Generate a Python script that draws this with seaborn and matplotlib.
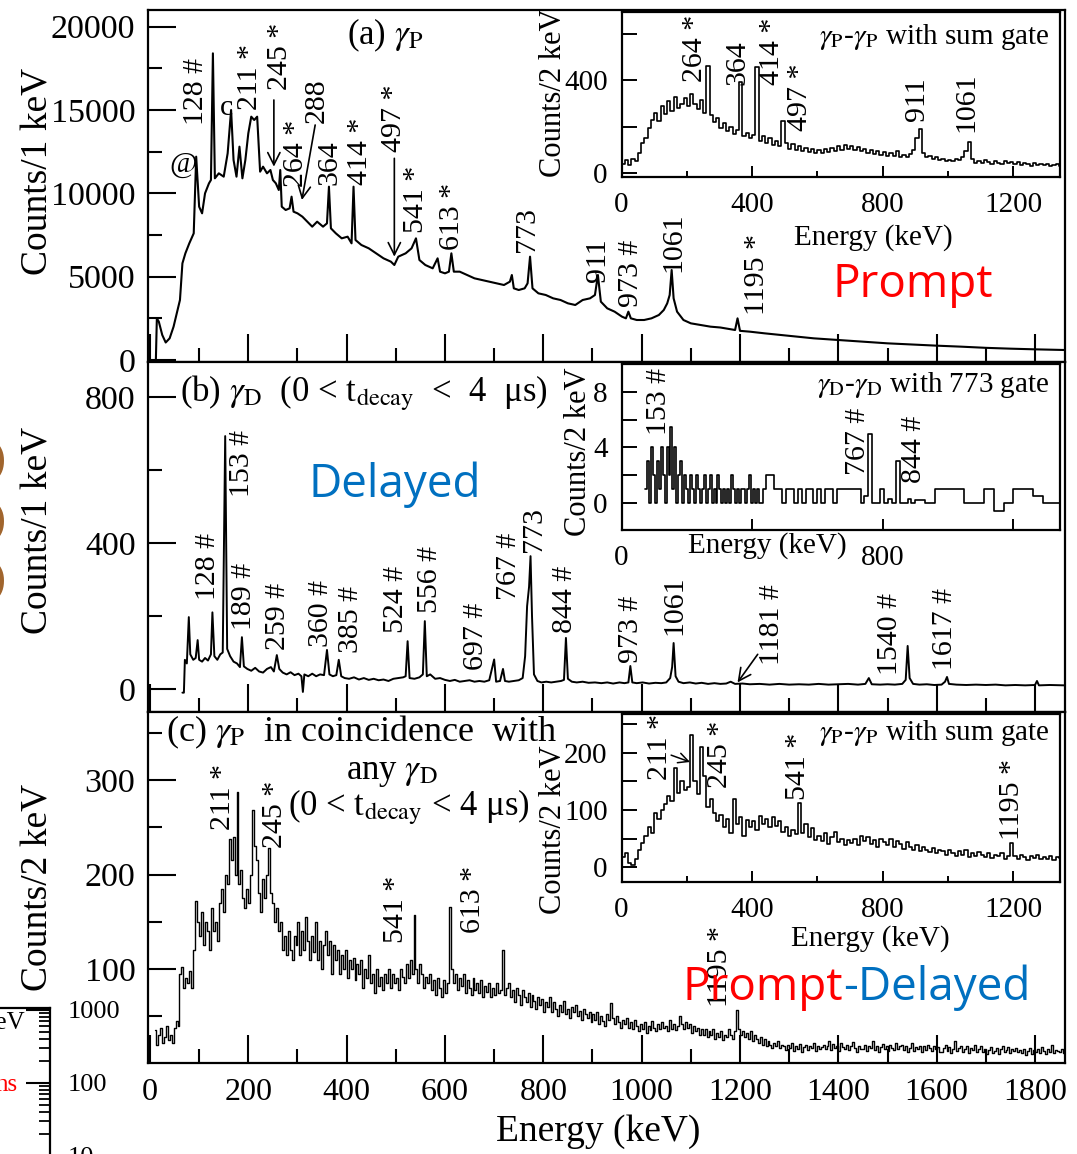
import numpy as np
import matplotlib
matplotlib.use("Agg")
import matplotlib.pyplot as plt
from matplotlib.ticker import MultipleLocator, FixedLocator, FuncFormatter, NullFormatter
import seaborn as sns

# ---------------- panel (a): prompt gamma singles, counts per 1 keV ----------------
pa_energy = [12, 14, 18, 25, 32, 40, 48, 56, 61, 66,
             72, 80, 89, 94, 100, 106, 112, 120, 124, 128,
             132, 140, 150, 158, 165, 170, 176, 182, 188, 194,
             200, 206, 212, 218, 224, 230, 238, 245, 250, 256,
             262, 265, 268, 276, 284, 288, 292, 300, 310, 320,
             330, 340, 352, 360, 364, 368, 378, 390, 402, 410,
             414, 418, 430, 445, 460, 475, 490, 497, 505, 520,
             532, 541, 548, 560, 575, 585, 590, 600, 608, 613,
             618, 630, 645, 660, 675, 690, 705, 720, 732, 736,
             740, 750, 762, 768, 773, 778, 790, 805, 820, 835,
             850, 865, 880, 895, 905, 911, 917, 930, 945, 960,
             968, 973, 978, 990, 1005, 1020, 1035, 1045, 1052, 1057,
             1061, 1065, 1072, 1085, 1100, 1120, 1140, 1160, 1180, 1190,
             1195, 1200, 1220, 1250, 1300, 1350, 1400, 1450, 1500, 1550,
             1600, 1650, 1700, 1750, 1800, 1860]
pa_counts = [0, 2500, 2300, 1500, 1050, 1300, 2000, 3000, 3600, 5800,
             6400, 7000, 7600, 12200, 9200, 8800, 10000, 10600, 10800, 18400,
             10900, 11200, 11000, 12400, 15000, 12000, 11000, 12800, 10900, 12000,
             13600, 14600, 14400, 14600, 11300, 11600, 11200, 11400, 10800, 10600,
             10200, 11400, 9200, 9000, 9100, 9800, 8900, 8800, 8600, 8300,
             8000, 8300, 8000, 8200, 10400, 7900, 7600, 7300, 7400, 7000,
             10400, 7200, 6900, 6700, 6400, 6100, 5900, 5700, 6200, 6400,
             6700, 7300, 6000, 5700, 5500, 6100, 5300, 5200, 5300, 6400,
             5300, 5300, 5100, 4900, 4800, 4700, 4600, 4500, 4700, 5100,
             4300, 4200, 4300, 4600, 6200, 4300, 4000, 3900, 3700, 3600,
             3400, 3300, 3600, 3700, 3900, 5100, 3500, 3100, 2900, 2600,
             2500, 2900, 2500, 2400, 2400, 2500, 2700, 3000, 3400, 3900,
             5400, 3700, 2900, 2400, 2200, 2100, 2000, 1950, 1850, 1800,
             2500, 1750, 1700, 1600, 1450, 1300, 1200, 1100, 1000, 930,
             860, 800, 730, 680, 640, 600]

# ---------------- panel (b): delayed gamma singles, counts per 1 keV ----------------
pb_energy = [66, 69, 71, 75, 79, 82, 88, 93, 97, 100,
             106, 112, 118, 124, 127, 131, 137, 143, 148, 153,
             157, 163, 170, 177, 183, 187, 191, 198, 206, 214,
             222, 230, 238, 246, 252, 258, 263, 270, 278, 286,
             294, 302, 308, 311, 314, 322, 330, 338, 346, 354,
             360, 365, 372, 379, 384, 389, 396, 405, 415, 425,
             435, 445, 455, 465, 475, 485, 495, 505, 515, 520,
             524, 528, 538, 548, 555, 559, 563, 570, 580, 590,
             600, 610, 620, 630, 640, 650, 660, 670, 680, 690,
             700, 704, 712, 718, 722, 730, 740, 750, 758, 763,
             767, 771, 774, 777, 781, 788, 796, 806, 816, 826,
             836, 842, 846, 850, 858, 868, 880, 892, 905, 918,
             930, 942, 955, 965, 973, 977, 981, 990, 1002, 1015,
             1028, 1040, 1050, 1058, 1062, 1065, 1069, 1075, 1085, 1098,
             1110, 1122, 1135, 1148, 1160, 1172, 1181, 1190, 1205, 1220,
             1240, 1260, 1280, 1300, 1320, 1340, 1360, 1380, 1400, 1420,
             1440, 1455, 1462, 1468, 1485, 1500, 1515, 1530, 1537, 1541,
             1545, 1552, 1565, 1580, 1595, 1610, 1617, 1621, 1625, 1640,
             1660, 1680, 1700, 1720, 1740, 1760, 1780, 1800, 1804, 1808,
             1830, 1860]
pb_counts = [-10, -10, 80, 70, 197, 95, 80, 85, 134, 80,
             75, 85, 78, 95, 210, 90, 80, 95, 100, 693,
             110, 90, 75, 70, 60, 142, 62, 55, 50, 58,
             48, 45, 55, 60, 48, 93, 55, 45, 40, 46,
             38, 42, 35, -8, 40, 35, 42, 35, 40, 38,
             107, 40, 35, 38, 80, 35, 30, 28, 32, 26,
             30, 25, 28, 24, 26, 22, 28, 30, 32, 35,
             131, 30, 28, 32, 40, 186, 35, 40, 28, 30,
             25, 22, 25, 20, 22, 24, 20, 22, 20, 24,
             81, 20, 22, 55, 22, 20, 22, 24, 30, 90,
             227, 280, 364, 200, 40, 22, 18, 20, 18, 20,
             22, 25, 140, 28, 20, 18, 20, 17, 18, 16,
             18, 15, 18, 16, 18, 63, 18, 16, 18, 15,
             17, 16, 18, 30, 60, 126, 35, 20, 16, 18,
             15, 17, 14, 16, 14, 15, 20, 14, 15, 13,
             14, 12, 14, 12, 13, 12, 14, 12, 13, 14,
             12, 14, 30, 13, 12, 13, 12, 14, 25, 118,
             30, 14, 12, 13, 11, 12, 20, 33, 14, 12,
             11, 12, 11, 12, 10, 11, 10, 11, 22, 10,
             11, 10]

# ---------------- panel (c): prompt gammas in coincidence, 4 keV bins from 10 keV ----------------
pc_start, pc_width = 10, 4
pc_counts = [35, 20, 30, 38, 22, 28, 40, 25, 30, 22, 38, 45, 40, 95, 102, 80, 90, 85, 98, 80,
             120, 172, 150, 135, 160, 125, 150, 140, 120, 165, 140, 150, 130, 170, 185, 160, 200, 190, 238, 215,
             240, 200, 287, 190, 205, 175, 165, 185, 170, 200, 268, 230, 215, 180, 160, 195, 175, 200, 228, 180,
             170, 150, 165, 140, 150, 120, 135, 115, 140, 120, 110, 135, 125, 150, 115, 140, 120, 155, 130, 110,
             135, 118, 150, 110, 130, 100, 125, 140, 115, 130, 95, 125, 110, 120, 95, 115, 100, 120, 90, 110,
             100, 112, 88, 105, 95, 110, 80, 100, 90, 115, 85, 95, 75, 100, 82, 92, 78, 95, 85, 100,
             80, 95, 85, 90, 78, 100, 92, 85, 105, 90, 110, 95, 157, 100, 85, 105, 95, 80, 92, 85,
             95, 78, 88, 72, 90, 80, 70, 88, 75, 85, 166, 100, 85, 95, 78, 90, 82, 95, 75, 88,
             80, 72, 90, 78, 85, 75, 88, 70, 82, 76, 85, 70, 80, 72, 85, 75, 78, 120, 72, 80,
             85, 70, 78, 65, 80, 72, 62, 78, 70, 65, 75, 60, 72, 66, 58, 70, 62, 68, 55, 65,
             60, 70, 55, 65, 58, 50, 62, 55, 66, 52, 58, 48, 60, 54, 62, 50, 56, 46, 58, 52,
             48, 55, 44, 52, 46, 55, 42, 50, 45, 40, 52, 46, 64, 48, 42, 50, 44, 38, 46, 42,
             48, 38, 44, 36, 46, 40, 34, 42, 36, 44, 32, 40, 35, 45, 38, 34, 42, 36, 44, 38,
             40, 34, 46, 36, 42, 35, 40, 50, 42, 36, 44, 38, 42, 32, 40, 34, 38, 30, 36, 30,
             36, 28, 34, 30, 36, 26, 32, 28, 34, 25, 30, 28, 36, 30, 26, 34, 57, 36, 30, 34,
             28, 32, 26, 34, 24, 30, 26, 22, 28, 20, 26, 18, 24, 20, 16, 22, 18, 24, 16, 20,
             18, 14, 20, 16, 22, 13, 19, 15, 21, 12, 17, 20, 14, 18, 16, 22, 13, 19, 15, 17,
             20, 15, 18, 24, 14, 21, 16, 19, 13, 22, 17, 15, 20, 14, 18, 23, 16, 12, 19, 15,
             15, 20, 13, 18, 16, 24, 14, 19, 12, 17, 21, 15, 18, 13, 20, 16, 14, 22, 15, 18,
             20, 14, 18, 12, 16, 22, 13, 17, 15, 19, 12, 18, 14, 20, 16, 13, 19, 15, 17, 12,
             12, 16, 20, 13, 17, 11, 15, 24, 13, 16, 19, 12, 15, 18, 11, 16, 14, 20, 12, 15,
             18, 12, 15, 10, 14, 17, 11, 13, 16, 10, 15, 19, 12, 14, 17, 11, 15, 13, 16, 12,
             14, 11, 15, 9, 13, 16, 10, 14, 12, 15, 11, 17, 13, 10, 15, 12, 20, 11, 14, 13,
             12, 15, 11]

# ---------------- inset (a): gamma_P-gamma_P with sum gate, 10 keV bins centred at 5 keV ----------------
ia_start, ia_width = 5, 10
ia_counts = [40, 55, 35, 60, 50, 85, 130, 150, 195, 230,
             260, 225, 290, 255, 310, 270, 330, 280, 300, 325,
             290, 340, 300, 275, 315, 260, 462, 250, 220, 240,
             195, 215, 180, 200, 170, 185, 392, 160, 175, 150,
             165, 458, 140, 160, 130, 150, 120, 140, 115, 224,
             130, 105, 125, 100, 115, 95, 110, 90, 105, 88,
             98, 85, 102, 92, 110, 95, 115, 100, 120, 105,
             118, 100, 112, 95, 105, 88, 100, 82, 95, 80,
             90, 75, 85, 72, 95, 70, 80, 68, 82, 100,
             150, 190, 85, 68, 75, 60, 70, 55, 62, 52,
             58, 50, 62, 55, 70, 95, 134, 60, 45, 52,
             42, 55, 48, 40, 52, 45, 38, 50, 42, 46,
             38, 48, 35, 44, 40, 32, 42, 36, 40, 34,
             38, 30, 36, 40, 32]

# ---------------- inset (b): gamma_D-gamma_D with 773 gate, three binning ranges ----------------
ib1_start, ib1_width = 72, 6
ib1_counts = [1, 3, 0, 4, 2, 0, 3, 1, 4, 2,
              0, 4, 2, 5.5, 1, 4, 0, 2, 3, 0,
              2, 1, 0, 2, 1, 0, 2, 1, 0, 1,
              2, 0, 1, 2, 0, 1, 0, 2, 1, 0,
              1, 0, 1, 0, 2, 1, 0, 1, 0, 1,
              1, 0, 1, 2, 0, 1, 0, 1]
ib2_start, ib2_width = 420, 12
ib2_counts = [0, 1, 2, 2, 1, 1, 0, 1, 1, 0,
              1, 0, 1, 1, 0, 1, 0, 1, 1, 0,
              1, 1, 1, 1, 1, 1, 0, 0.5, 5, 0,
              0, 1, 0, 0.3, 0, 3, 0, 0, 0.3, 0]
ib3_start, ib3_width = 900, 30
ib3_counts = [0.2, 0, 1, 1, 1, 0, 0, 1, -0.6, 0, 1, 1, 0.5, 0, 0]

# ---------------- inset (c): gamma_P-gamma_P with sum gate (coincidence), 10 keV bins ----------------
ic_start, ic_width = 5, 10
ic_counts = [18, 25, 8, 4, 14, 30, 42, 55, 70, 60,
             95, 85, 100, 110, 125, 115, 173, 130, 150, 135,
             140, 231, 150, 128, 211, 160, 105, 120, 95, 80,
             92, 70, 85, 60, 120, 75, 88, 55, 82, 70,
             80, 65, 90, 75, 85, 70, 88, 72, 80, 62,
             70, 55, 65, 58, 112, 60, 75, 52, 68, 48,
             55, 45, 60, 40, 52, 62, 44, 50, 38, 48,
             42, 50, 38, 55, 45, 52, 40, 48, 36, 50,
             44, 38, 50, 35, 46, 40, 32, 44, 36, 30,
             38, 28, 35, 30, 26, 34, 24, 30, 28, 22,
             30, 25, 20, 28, 22, 30, 18, 25, 20, 27,
             22, 18, 25, 16, 22, 19, 24, 15, 20, 42,
             20, 15, 22, 18, 12, 20, 16, 22, 14, 18,
             15, 20, 13, 18, 16]

# ---------------- peak labels (text) ----------------
pa_labels = ["128 #", "211 *", "245 *", "264 *", "288", "364", "414 *", "497 *",
             "541 *", "613 *", "773", "911", "973 #", "1061", "1195 *"]
pb_labels = ["128 #", "153 #", "189 #", "259 #", "360 #", "385 #", "524 #", "556 #",
             "697 #", "767 #", "773", "844 #", "973 #", "1061", "1181 #", "1540 #", "1617 #"]
pc_labels = ["211 *", "245 *", "541 *", "613 *", "1195 *"]
ia_labels = ["264 *", "364", "414 *", "497 *", "911", "1061"]
ib_labels = ["153 #", "767 #", "844 #"]
ic_labels = ["211 *", "245 *", "541 *", "1195 *"]

# label anchor positions (centre x, bottom y) in data units
pa_label_pos = [(93, 14100), (203, 15000), (264, 16200), (296, 10400), (340, 14200),
                (366, 10500), (427, 10500), (496, 12500), (541, 7600), (614, 6600),
                (767, 6500), (911, 4700), (979, 3200), (1064, 5300), (1234, 2700)]
pb_label_pos = [(119, 244), (187, 526), (191, 162), (261, 107), (348, 115), (409, 99),
                (500, 153), (569, 208), (663, 52), (730, 244), (782, 375), (844, 153),
                (978, 71), (1067, 148), (1266, 66), (1505, 38), (1617, 52)]
pc_label_pos = [(149, 247), (254, 228), (500, 128), (657, 138), (1160, 60)]
ia_label_pos = [(224, 392), (354, 379), (461, 379), (548, 181), (905, 223), (1056, 177)]
ib_label_pos = [(116, 4.9), (723, 2.0), (896, 1.45)]
ic_label_pos = [(118, 153), (302, 139), (541, 118), (1196, 47)]

# ---------------- style ----------------
sns.set_theme(style="white")
plt.rcParams.update({
    "font.family": ["Liberation Serif", "DejaVu Serif"],
    "mathtext.fontset": "stix",
    "axes.edgecolor": "black",
    "axes.linewidth": 1.6,
    "text.color": "black",
    "axes.labelcolor": "black",
    "xtick.color": "black",
    "ytick.color": "black",
})

W_PX, H_PX = 1077, 1154
fig = plt.figure(figsize=(W_PX / 100, H_PX / 100), dpi=100)


def box(x0, y0, x1, y1):
    """Axes rectangle from pixel corners (top-left origin)."""
    return [x0 / W_PX, 1 - y1 / H_PX, (x1 - x0) / W_PX, (y1 - y0) / H_PX]


XTICK_MAIN, YTICK_MAIN, LABEL_MAIN, TITLE, PEAK = 23, 24.5, 27, 25, 21.5
INSET_TICK, INSET_LABEL = 21, 21
BIG = 33
RED, BLUE = "#ff0000", "#0070c0"
FANCY = ["Open Sans", "DejaVu Sans"]

ax_a = fig.add_axes(box(148, 10, 1065, 362))
ax_b = fig.add_axes(box(148, 362, 1065, 712))
ax_c = fig.add_axes(box(148, 712, 1065, 1063))


def style_main(ax, ymaj, ymin, ylim, show_x):
    ax.set_xlim(-4, 1861)
    ax.set_ylim(*ylim)
    ax.xaxis.set_major_locator(MultipleLocator(200))
    ax.xaxis.set_minor_locator(MultipleLocator(100))
    ax.yaxis.set_major_locator(MultipleLocator(ymaj))
    ax.yaxis.set_minor_locator(MultipleLocator(ymin))
    ax.tick_params(which="both", direction="in", width=1.5, top=False, right=False,
                   bottom=True, left=True, colors="black")
    ax.tick_params(which="major", length=20)
    ax.tick_params(which="minor", length=10)
    ax.tick_params(axis="y", pad=9, labelsize=YTICK_MAIN)
    ax.tick_params(axis="x", pad=11, labelsize=XTICK_MAIN)
    if not show_x:
        ax.xaxis.set_major_formatter(NullFormatter())
    for s in ax.spines.values():
        s.set_linewidth(1.6)
        s.set_color("black")
    ax.grid(False)


def spectrum(ax, x, y, lw=1.3, steps=None):
    kw = dict(drawstyle=steps) if steps else {}
    sns.lineplot(x=np.asarray(x, float), y=np.asarray(y, float), ax=ax, color="black",
                 lw=lw, estimator=None, sort=False, legend=False, **kw)
    ax.set_xlabel("")
    ax.set_ylabel("")


def peak_labels(ax, labels, pos, size):
    for lab, (xx, yy) in zip(labels, pos):
        ax.text(xx, yy, lab, rotation=90, ha="center", va="bottom", fontsize=size)


arrow = dict(arrowstyle="->", lw=1.2, color="black", mutation_scale=22, shrinkA=0, shrinkB=0)

# ---- panel (a)
spectrum(ax_a, pa_energy, pa_counts, lw=1.5)
style_main(ax_a, 5000, 2500, (-120, 21000), False)
ax_a.set_ylabel("Counts/1 keV", fontsize=LABEL_MAIN)
peak_labels(ax_a, pa_labels, pa_label_pos, PEAK)
ax_a.text(67, 11700, "@", ha="center", va="center", fontsize=PEAK)
ax_a.text(155, 15100, "c", ha="center", va="center", fontsize=PEAK)
ax_a.text(401, 19500, r"(a) $\gamma_{\rm P}$", ha="left", va="center", fontsize=TITLE)
ax_a.annotate("", xy=(252, 11600), xytext=(252, 15600), arrowprops=arrow)
ax_a.annotate("", xy=(309, 9600), xytext=(336, 14100), arrowprops=arrow)
ax_a.annotate("", xy=(497, 6200), xytext=(497, 12100), arrowprops=arrow)
ax_a.text(1552, 4500, "Prompt", color=RED, family=FANCY, fontsize=BIG, ha="center", va="center")

# ---- panel (b)
spectrum(ax_b, pb_energy, pb_counts, lw=1.4)
style_main(ax_b, 400, 200, (-63, 896), False)
ax_b.set_ylabel("Counts/1 keV", fontsize=LABEL_MAIN)
peak_labels(ax_b, pb_labels, pb_label_pos, PEAK)
ax_b.text(61, 811, r"(b) $\gamma_{\rm D}$  (0 < t$_{\rm decay}$  <  4  μs)", ha="left", va="center",
          fontsize=TITLE)
ax_b.annotate("", xy=(1195, 18), xytext=(1236, 95), arrowprops=arrow)
ax_b.text(498, 559, "Delayed", color=BLUE, family=FANCY, fontsize=BIG, ha="center", va="center")

# ---- panel (c)
pc_energy = pc_start + pc_width * np.arange(len(pc_counts))
spectrum(ax_c, pc_energy, pc_counts, lw=1.0, steps="steps-mid")
style_main(ax_c, 100, 50, (0.5, 372), True)
ax_c.set_ylabel("Counts/2 keV", fontsize=LABEL_MAIN)
ax_c.set_xlabel("Energy (keV)", fontsize=LABEL_MAIN)
peak_labels(ax_c, pc_labels, pc_label_pos, PEAK)
ax_c.text(33, 350, r"(c) $\gamma_{\rm P}$  in coincidence  with", ha="left", va="center", fontsize=26)
ax_c.text(491, 308, r"any $\gamma_{\rm D}$", ha="center", va="center", fontsize=TITLE)
ax_c.text(527, 271, r"(0 < t$_{\rm decay}$ < 4 μs)", ha="center", va="center", fontsize=TITLE)
t_prompt = ax_c.text(1084, 80, "Prompt", color=RED, family=FANCY, fontsize=BIG,
                     ha="left", va="center")
ax_c.annotate("-Delayed", xy=(1, 0), xycoords=t_prompt, ha="left", va="bottom",
              color=BLUE, family=FANCY, fontsize=BIG)

for ax, yfrac in ((ax_a, 0.54), (ax_b, 0.52), (ax_c, 0.50)):
    ax.yaxis.label.set_va("center")
    ax.yaxis.set_label_coords(-0.120, yfrac)
ax_c.xaxis.label.set_va("center")
ax_c.xaxis.set_label_coords(0.491, -0.197)


# ---------------- insets ----------------
def style_inset(ax, ylim, ymaj, ymin, xlabels=("0", "400", "800", "1200")):
    ax.set_facecolor("white")
    ax.set_xlim(0, 1343)
    ax.set_ylim(*ylim)
    ax.xaxis.set_major_locator(FixedLocator([0, 400, 800, 1200]))
    ax.xaxis.set_minor_locator(FixedLocator([200, 600, 1000]))
    ax.set_xticklabels(list(xlabels))
    ax.yaxis.set_major_locator(FixedLocator(ymaj))
    ax.yaxis.set_minor_locator(FixedLocator(ymin))
    ax.tick_params(which="both", direction="in", width=1.4, top=False, right=False,
                   bottom=True, left=True, colors="black")
    ax.tick_params(axis="y", which="both", length=11, labelsize=INSET_TICK, pad=10)
    ax.tick_params(axis="x", which="major", length=8, labelsize=INSET_TICK, pad=11)
    ax.tick_params(axis="x", which="minor", length=4)
    for s in ax.spines.values():
        s.set_linewidth(1.6)
        s.set_color("black")
    ax.grid(False)


ins_a = fig.add_axes(box(621.5, 12, 1060, 177))
ia_energy = ia_start + ia_width * np.arange(len(ia_counts))
spectrum(ins_a, ia_energy, ia_counts, lw=1.2, steps="steps-mid")
style_inset(ins_a, (-17, 696), [0, 400], [200, 600])
peak_labels(ins_a, ia_labels, ia_label_pos, PEAK)
ins_a.text(0.977, 0.847, r"$\gamma_{\rm P}$-$\gamma_{\rm P}$ with sum gate", transform=ins_a.transAxes,
           ha="right", va="center", fontsize=INSET_LABEL)
ins_a.set_ylabel("Counts/2 keV", fontsize=22)
ins_a.set_xlabel("Energy (keV)", fontsize=INSET_LABEL)
ins_a.yaxis.label.set_va("center")
ins_a.yaxis.set_label_coords(-0.156, 0.51)
ins_a.xaxis.label.set_va("center")
ins_a.xaxis.set_label_coords(0.574, -0.364)

ins_b = fig.add_axes(box(621.5, 364, 1060, 530))
ib_edges = np.concatenate([ib1_start + ib1_width * np.arange(len(ib1_counts)),
                           ib2_start + ib2_width * np.arange(len(ib2_counts)),
                           ib3_start + ib3_width * np.arange(len(ib3_counts) + 1)])
ib_vals = list(ib1_counts) + list(ib2_counts) + list(ib3_counts) + [ib3_counts[-1]]
spectrum(ins_b, ib_edges, ib_vals, lw=1.2, steps="steps-post")
style_inset(ins_b, (-1.94, 10.0), [0, 4, 8], [2, 6], xlabels=("0", "", "800", ""))
ins_b.tick_params(axis="x", which="minor", length=0)
peak_labels(ins_b, ib_labels, ib_label_pos, PEAK)
ins_b.text(0.975, 0.873, r"$\gamma_{\rm D}$-$\gamma_{\rm D}$ with 773 gate", transform=ins_b.transAxes,
           ha="right", va="center", fontsize=INSET_LABEL)
ins_b.set_ylabel("Counts/2 keV", fontsize=22)
ins_b.set_xlabel("Energy (keV)", fontsize=INSET_LABEL)
ins_b.yaxis.label.set_va("center")
ins_b.yaxis.set_label_coords(-0.099, 0.47)
ins_b.xaxis.label.set_va("center")
ins_b.xaxis.set_label_coords(0.332, -0.096)

ins_c = fig.add_axes(box(621.5, 714, 1060, 882))
ic_energy = ic_start + ic_width * np.arange(len(ic_counts))
spectrum(ins_c, ic_energy, ic_counts, lw=1.2, steps="steps-mid")
style_inset(ins_c, (-26, 268), [0, 100, 200], [50, 150, 250])
peak_labels(ins_c, ic_labels, ic_label_pos, PEAK)
ins_c.annotate("", xy=(210, 184), xytext=(152, 196),
               arrowprops=dict(arrowstyle="->", lw=1.1, color="black", mutation_scale=18,
                               shrinkA=0, shrinkB=0))
ins_c.text(0.977, 0.887, r"$\gamma_{\rm P}$-$\gamma_{\rm P}$ with sum gate", transform=ins_c.transAxes,
           ha="right", va="center", fontsize=INSET_LABEL)
ins_c.set_ylabel("Counts/2 keV", fontsize=22)
ins_c.set_xlabel("Energy (keV)", fontsize=INSET_LABEL)
ins_c.yaxis.label.set_va("center")
ins_c.yaxis.set_label_coords(-0.156, 0.31)
ins_c.xaxis.label.set_va("center")
ins_c.xaxis.set_label_coords(0.568, -0.339)

# ---------------- neighbouring panel at the left margin ----------------
ax_f = fig.add_axes(box(-120, 1008, 50, 1200))
ax_f.set_facecolor("none")
ax_f.set_yscale("log")
ax_f.set_ylim(2.49, 1065)
ax_f.set_xticks([])
ax_f.yaxis.tick_right()
ax_f.yaxis.set_major_formatter(FuncFormatter(lambda v, p: f"{v:.0f}"))
ax_f.yaxis.set_minor_formatter(NullFormatter())
ax_f.tick_params(axis="y", which="major", direction="in", length=17, width=1.5, labelsize=19, pad=13,
                 right=True, left=False, colors="black")
ax_f.tick_params(axis="y", which="minor", direction="in", length=8, width=1.3, right=True, left=False)
for s in ax_f.spines.values():
    s.set_linewidth(1.6)
    s.set_color("black")
fig.text(25 / W_PX, 1 - 1023 / H_PX, "keV", ha="right", va="center", fontsize=18)
fig.text(18 / W_PX, 1 - 1085 / H_PX, "ns", ha="right", va="center", fontsize=18, color=RED)
fig.text(18 / W_PX, 1 - 515 / H_PX, "OOO", rotation=90, ha="right", va="center",
         fontsize=56, color="#a0642c", family=FANCY)

fig.savefig("out.png", dpi=100)
